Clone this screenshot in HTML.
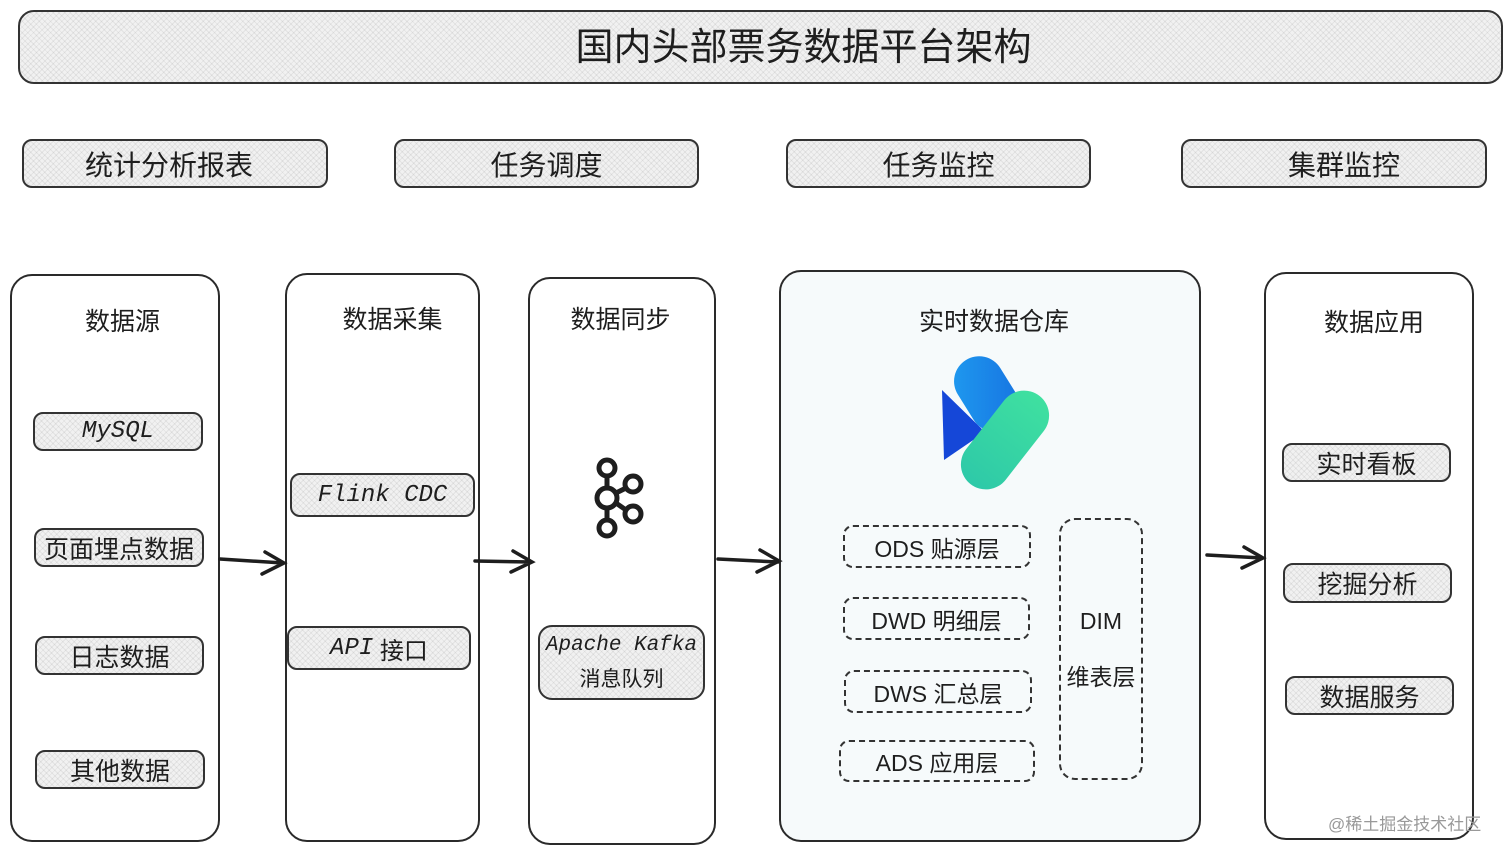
<!DOCTYPE html>
<html><head><meta charset="utf-8"><style>
body{margin:0;width:1512px;height:855px;background:#fff;position:relative;overflow:hidden;font-family:"Liberation Sans","Noto Sans CJK SC",sans-serif;color:#1e1e1e}
.b{position:absolute;box-sizing:border-box;border:2px solid #333;border-radius:10px;display:flex;align-items:center;justify-content:center;text-align:center}
.h{background-color:#f1f1f1;background-image:repeating-linear-gradient(45deg,rgba(0,0,0,.06) 0 1px,transparent 1px 4px),repeating-linear-gradient(-45deg,rgba(0,0,0,.06) 0 1px,transparent 1px 4px)}
.col{position:absolute;box-sizing:border-box;border:2px solid #2a2a2a;border-radius:22px;background:#fff}
.t{position:absolute;font-size:25px;text-align:center}
.d{position:absolute;box-sizing:border-box;border:2px dashed #333;border-radius:10px;display:flex;align-items:center;justify-content:center;font-size:23px}
.hand{font-family:"Liberation Mono",monospace;font-style:italic}
</style></head><body>
<div class="b h" style="left:18px;top:10px;width:1485px;height:74px;border-radius:16px;font-size:38px;padding-left:86px;padding-bottom:8px">国内头部票务数据平台架构</div>
<div class="b h" style="left:22px;top:139px;width:306px;height:49px;font-size:28px;padding-right:12px">统计分析报表</div>
<div class="b h" style="left:394px;top:139px;width:305px;height:49px;font-size:28px">任务调度</div>
<div class="b h" style="left:786px;top:139px;width:305px;height:49px;font-size:28px">任务监控</div>
<div class="b h" style="left:1181px;top:139px;width:306px;height:49px;font-size:28px;padding-left:20px">集群监控</div>

<div class="col" style="left:10px;top:274px;width:210px;height:568px"></div>
<div class="col" style="left:285px;top:273px;width:195px;height:569px"></div>
<div class="col" style="left:528px;top:277px;width:188px;height:568px"></div>
<div class="col" style="left:779px;top:270px;width:422px;height:572px;background:#f6fafb"></div>
<div class="col" style="left:1264px;top:272px;width:210px;height:568px"></div>

<div class="t" style="left:10px;width:225px;top:302px">数据源</div>
<div class="t" style="left:285px;width:215px;top:300px">数据采集</div>
<div class="t" style="left:528px;width:185px;top:300px">数据同步</div>
<div class="t" style="left:779px;width:430px;top:302px">实时数据仓库</div>
<div class="t" style="left:1264px;width:220px;top:303px">数据应用</div>

<div class="b h hand" style="left:33px;top:412px;width:170px;height:39px;font-size:24px">MySQL</div>
<div class="b h" style="left:34px;top:528px;width:170px;height:39px;font-size:25px">页面埋点数据</div>
<div class="b h" style="left:35px;top:636px;width:169px;height:39px;font-size:25px">日志数据</div>
<div class="b h" style="left:35px;top:750px;width:170px;height:39px;font-size:25px">其他数据</div>

<div class="b h hand" style="left:290px;top:473px;width:185px;height:44px;font-size:24px">Flink CDC</div>
<div class="b h" style="left:287px;top:626px;width:184px;height:44px;font-size:24px"><span class="hand">API</span>&nbsp;接口</div>

<svg style="position:absolute;left:590px;top:455px" width="56" height="86" viewBox="0 0 56 86">
<g fill="none" stroke="#1e1e1e" stroke-width="5">
<circle cx="17" cy="13" r="8"/><circle cx="17" cy="43" r="10"/><circle cx="17" cy="73" r="8"/>
<circle cx="43" cy="29" r="8"/><circle cx="43" cy="59" r="8"/>
<line x1="17" y1="21" x2="17" y2="33"/><line x1="17" y1="53" x2="17" y2="65"/>
<line x1="26" y1="38" x2="36" y2="33"/><line x1="26" y1="48" x2="36" y2="55"/></g></svg>
<div class="b h" style="left:538px;top:625px;width:167px;height:75px;flex-direction:column;border-radius:14px;font-size:21px;line-height:34px"><span class="hand">Apache Kafka</span><span>消息队列</span></div>

<svg style="position:absolute;left:940px;top:350px" width="110" height="142" viewBox="0 0 110 142">
<defs><linearGradient id="g1" x1="0" y1="0" x2="1" y2="1"><stop offset="0" stop-color="#1f9cf0"/><stop offset="1" stop-color="#1670e0"/></linearGradient>
<linearGradient id="g2" x1="0" y1="0" x2="0" y2="1"><stop offset="0" stop-color="#3fe0a0"/><stop offset="1" stop-color="#2ec9a8"/></linearGradient></defs>
<rect x="22" y="4" width="50" height="80" rx="25" transform="rotate(-32 47 44)" fill="url(#g1)"/>
<path d="M2 40 L4 110 L45 82 Z" fill="#1547d8"/>
<rect x="40" y="34" width="50" height="112" rx="25" transform="rotate(38 65 90)" fill="url(#g2)"/>
</svg>

<div class="d" style="left:843px;top:525px;width:188px;height:43px">ODS 贴源层</div>
<div class="d" style="left:843px;top:597px;width:187px;height:43px">DWD 明细层</div>
<div class="d" style="left:844px;top:670px;width:188px;height:43px">DWS 汇总层</div>
<div class="d" style="left:839px;top:740px;width:196px;height:42px">ADS 应用层</div>
<div class="d" style="left:1059px;top:518px;width:84px;height:262px;flex-direction:column;border-radius:16px;line-height:56px;text-align:center"><span>DIM</span><span>维表层</span></div>

<div class="b h" style="left:1282px;top:443px;width:169px;height:39px;font-size:25px">实时看板</div>
<div class="b h" style="left:1283px;top:563px;width:169px;height:40px;font-size:25px">挖掘分析</div>
<div class="b h" style="left:1285px;top:676px;width:169px;height:39px;font-size:25px">数据服务</div>

<svg style="position:absolute;left:0;top:0" width="1512" height="855">
<g fill="none" stroke="#1e1e1e" stroke-width="3.5" stroke-linecap="round">
<path d="M220 559 L283 563 M265 552 L284 563 L262 574"/>
<path d="M475 561 L531 562 M513 551 L532 562 L511 572"/>
<path d="M718 559 L778 562 M760 550 L779 561 L757 572"/>
<path d="M1207 555 L1262 558 M1244 547 L1263 558 L1242 568"/>
</g></svg>
<div style="position:absolute;left:1328px;top:810px;font-size:17px;color:#999">@稀土掘金技术社区</div>
</body></html>
